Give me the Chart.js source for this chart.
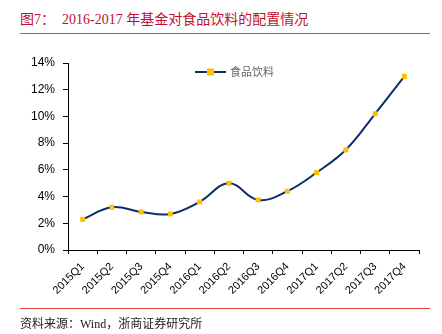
<!DOCTYPE html>
<html>
<head>
<meta charset="utf-8">
<script src="https://cdn.jsdelivr.net/npm/chart.js@4"></script>
<style>
  body { margin: 0; background: #fff; }
  #wrap { position: relative; width: 442px; height: 334px; overflow: hidden; }
  #title { position: absolute; left: 20px; top: 8px; font: 14px "Liberation Serif", "Noto Sans CJK SC", serif; color: #c0102f; white-space: pre; }
  .rule { position: absolute; left: 20px; width: 410px; height: 1px; background: #e8413e; }
  #source { position: absolute; left: 20px; top: 314px; font: 12px "Liberation Serif", "Noto Sans CJK SC", serif; color: #222; white-space: pre; }
  canvas { position: absolute; left: 0; top: 0; }
</style>
</head>
<body>
<div id="wrap">
  <div id="title">图7：  2016-2017 年基金对食品饮料的配置情况</div>
  <div class="rule" style="top:33px"></div>
  <canvas id="chart" width="442" height="334"></canvas>
  <div class="rule" style="top:308px"></div>
  <div id="source">资料来源：Wind，浙商证券研究所</div>
</div>
<script>
// 季度
const quarters = ['2015Q1', '2015Q2', '2015Q3', '2015Q4', '2016Q1', '2016Q2',
                  '2016Q3', '2016Q4', '2017Q1', '2017Q2', '2017Q3', '2017Q4'];
// 基金对食品饮料配置比例 (%)
const foodBeverage = [2.3, 3.2, 2.85, 2.7, 3.6, 5.0, 3.75, 4.4, 5.8, 7.5, 10.2, 13.0];
const yTicks = [0, 2, 4, 6, 8, 10, 12, 14];

const lineColor = '#0f2d6b';
const markColor = '#ffc000';

// 图例画在绘图区内部
const insideLegend = {
    id: 'insideLegend',
    afterDraw(chart) {
        const { ctx } = chart;
        const ds = chart.data.datasets[0];
        const y = 72;
        ctx.save();
        ctx.strokeStyle = ds.borderColor;
        ctx.lineWidth = 2;
        ctx.beginPath();
        ctx.moveTo(195, y);
        ctx.lineTo(226, y);
        ctx.stroke();
        ctx.fillStyle = ds.pointBackgroundColor;
        ctx.fillRect(207, y - 3.5, 7, 7);
        ctx.fillStyle = '#666';
        ctx.font = '11px "Noto Sans CJK SC", sans-serif';
        ctx.textBaseline = 'middle';
        ctx.fillText(ds.label, 230, y);
        ctx.restore();
    }
};

new Chart(document.getElementById('chart'), {
    type: 'line',
    data: {
        labels: quarters,
        datasets: [{
            label: '食品饮料',
            data: foodBeverage,
            borderColor: lineColor,
            borderWidth: 2,
            tension: 0.4,
            pointStyle: 'rect',
            pointRadius: 3.5,
            pointBackgroundColor: markColor,
            pointBorderColor: markColor,
            pointBorderWidth: 0,
        }]
    },
    options: {
        responsive: false,
        animation: false,
        layout: { padding: { left: 0, right: 23, top: 63, bottom: 0 } },
        plugins: {
            legend: { display: false },
            tooltip: { enabled: false },
        },
        scales: {
            x: {
                offset: true,
                afterFit(scale) { scale.height = 84; },
                grid: {
                    offset: true,
                    drawOnChartArea: false,
                    drawTicks: true,
                    tickLength: 4,
                    color: '#000',
                },
                border: { color: '#000', width: 1 },
                ticks: {
                    minRotation: 45,
                    maxRotation: 45,
                    color: '#000',
                    padding: 6,
                    font: { family: '"Liberation Sans", Arial, sans-serif', size: 11 },
                },
            },
            y: {
                min: 0,
                max: 14,
                afterFit(scale) { scale.width = 68; },
                afterBuildTicks(scale) { scale.ticks = yTicks.map(v => ({ value: v })); },
                grid: {
                    drawOnChartArea: false,
                    drawTicks: true,
                    tickLength: 5,
                    color: '#000',
                },
                border: { color: '#000', width: 1 },
                ticks: {
                    color: '#000',
                    padding: 8,
                    callback: v => v + '%',
                    font: { family: '"Liberation Sans", Arial, sans-serif', size: 12 },
                },
            },
        },
    },
    plugins: [insideLegend],
});
</script>
</body>
</html>
